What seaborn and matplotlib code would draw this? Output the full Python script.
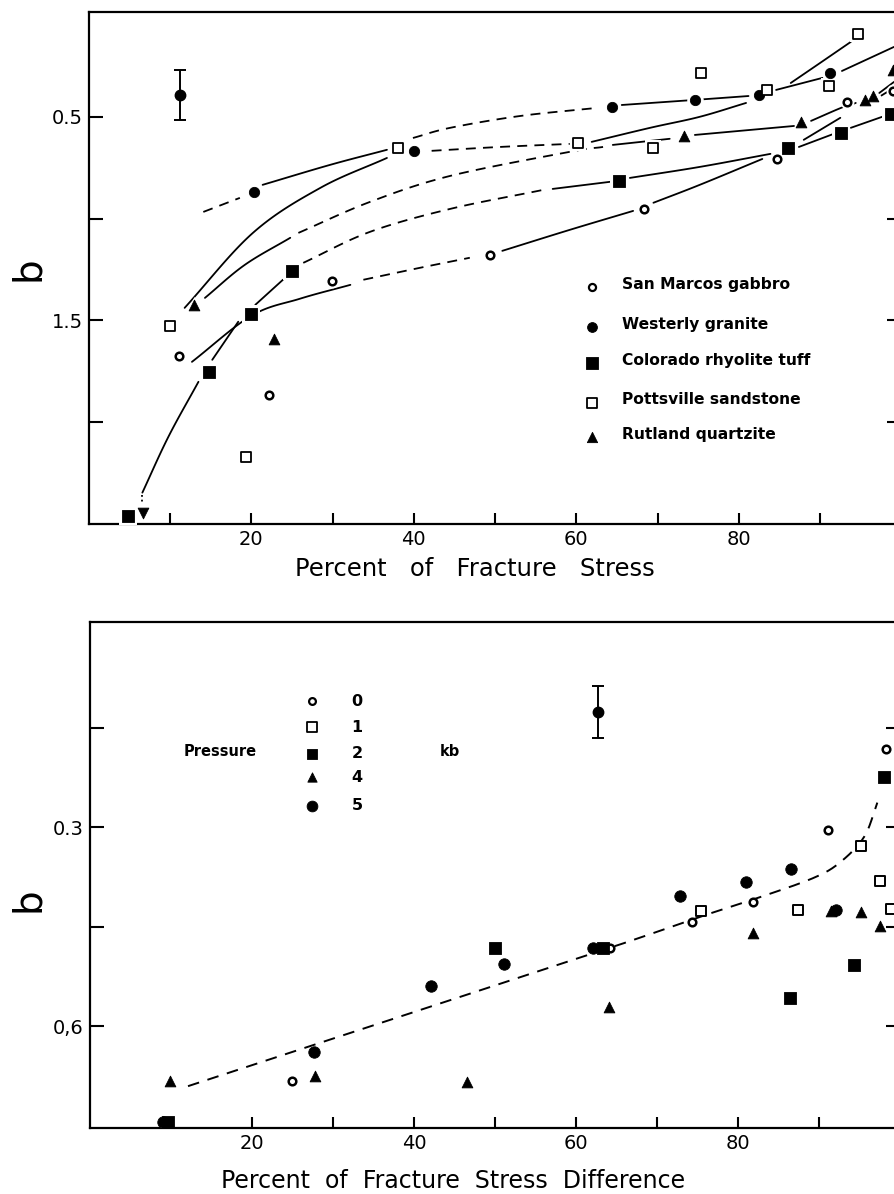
import numpy as np
import matplotlib
matplotlib.use("Agg")
import matplotlib.pyplot as plt
import seaborn as sns

# ---------------- upper panel: b versus percent of fracture stress ----------------
gabbro_pct = [11.1, 22.2, 29.9, 49.4, 68.3, 84.7, 93.3, 99.0]
gabbro_b = [1.673, 1.865, 1.305, 1.178, 0.952, 0.707, 0.427, 0.373]

granite_pct = [20.3, 40.0, 64.4, 74.6, 82.5, 91.2]
granite_b = [0.869, 0.667, 0.451, 0.417, 0.393, 0.285]

tuff_pct = [4.8, 14.8, 20.0, 25.0, 65.3, 86.1, 92.6, 98.7]
tuff_b = [2.458, 1.752, 1.467, 1.256, 0.815, 0.653, 0.579, 0.486]

sandstone_pct = [10.0, 19.4, 38.1, 60.2, 69.4, 75.4, 83.5, 91.1, 94.7]
sandstone_b = [1.526, 2.169, 0.653, 0.628, 0.653, 0.285, 0.368, 0.348, 0.093]

quartzite_pct = [13.0, 22.8, 73.3, 87.7, 95.5, 96.5, 99.0]
quartzite_b = [1.423, 1.590, 0.594, 0.525, 0.417, 0.397, 0.270]

bound_pct = [6.7]
bound_b = [2.444]

upper_err_pct = [11.2]
upper_err_b = [0.393]
upper_err = [0.122]

# hand-fitted trend curves, as (linestyle, percent, b) pieces
granite_fit = [
    ("--", [14.1, 18.6], [0.967, 0.898]),
    ("-", [21.4, 29.7, 36.7], [0.834, 0.736, 0.662]),
    ("--", [39.9, 44.5, 53.1, 62.6], [0.604, 0.554, 0.496, 0.456]),
    ("-", [65.6, 74.6, 81.2], [0.442, 0.417, 0.398]),
    ("-", [84.6, 90.3], [0.368, 0.309]),
    ("-", [92.7, 99.1], [0.275, 0.157]),
]
sandstone_fit = [
    ("-", [11.8, 20.2, 28.5, 36.7], [1.438, 1.070, 0.849, 0.702]),
    ("--", [42.2, 50.6, 59.2], [0.667, 0.648, 0.633]),
    ("-", [61.9, 69.1, 75.2, 80.9], [0.623, 0.554, 0.500, 0.432]),
    ("-", [86.4, 90.0, 93.8], [0.334, 0.236, 0.132]),
]
quartzite_fit = [
    ("-", [14.3, 19.2, 24.8], [1.389, 1.227, 1.094]),
    ("--", [25.8, 34.6, 44.5, 59.2, 63.3], [1.070, 0.918, 0.790, 0.672, 0.648]),
    ("-", [64.5, 71.5], [0.638, 0.608]),
    ("-", [74.6, 86.8], [0.589, 0.545]),
    ("-", [88.9, 92.6, 94.4], [0.520, 0.456, 0.432]),
    ("-", [97.3, 99.1], [0.383, 0.329]),
]
tuff_fit = [
    ("-", [6.6, 9.8, 13.5], [2.345, 2.071, 1.801]),
    (":", [6.6, 6.6], [2.355, 2.400]),
    ("-", [15.2, 18.4], [1.693, 1.506]),
    ("-", [20.5, 23.9], [1.423, 1.300]),
    ("--", [26.4, 34.6, 44.5, 55.9], [1.217, 1.065, 0.952, 0.859]),
    ("-", [57.1, 64.2], [0.854, 0.819]),
    ("-", [66.6, 75.2, 83.9], [0.800, 0.746, 0.682]),
    ("-", [87.4, 92.0], [0.648, 0.579]),
    ("-", [93.8, 98.3], [0.554, 0.491]),
]
gabbro_fit = [
    ("-", [12.7, 20.0, 26.0, 32.2], [1.703, 1.477, 1.393, 1.325]),
    ("--", [33.8, 40.8, 46.9], [1.300, 1.241, 1.192]),
    ("-", [50.9, 59.2, 67.0], [1.158, 1.055, 0.962]),
    ("-", [69.5, 75.2, 82.9], [0.922, 0.834, 0.707]),
    ("-", [88.0, 92.5], [0.613, 0.505]),
    ("--", [97.5, 99.1], [0.397, 0.358]),
]

rock_names = ["San Marcos gabbro", "Westerly granite", "Colorado rhyolite tuff",
              "Pottsville sandstone", "Rutland quartzite"]

# ---------------- lower panel: b versus percent of fracture stress difference ----------------
p0_pct = [24.9, 64.2, 74.3, 81.9, 91.1, 98.3]
p0_b = [0.682, 0.482, 0.443, 0.412, 0.304, 0.183]
p1_pct = [75.4, 87.4, 95.2, 97.5, 98.9]
p1_b = [0.426, 0.424, 0.329, 0.381, 0.423]
p2_pct = [9.6, 50.0, 63.3, 86.4, 94.3, 98.0]
p2_b = [0.744, 0.482, 0.482, 0.557, 0.507, 0.224]
p4_pct = [9.9, 27.8, 46.5, 64.1, 81.9, 91.5, 95.2, 97.5]
p4_b = [0.682, 0.675, 0.684, 0.571, 0.459, 0.426, 0.427, 0.449]
p5_pct = [9.0, 27.7, 42.1, 51.1, 62.1, 72.8, 81.0, 86.5, 92.1]
p5_b = [0.744, 0.638, 0.539, 0.506, 0.482, 0.403, 0.382, 0.363, 0.424]

trend_pct = [12.1, 44.1, 64.6, 75.3, 82.8, 89.4, 92.7, 95.6, 97.2]
trend_b = [0.690, 0.562, 0.480, 0.435, 0.405, 0.376, 0.352, 0.314, 0.263]

lower_err_pct = [62.7]
lower_err_b = [0.127]
lower_err = [0.039]

pressure_labels = ["0", "1", "2", "4", "5"]

# ---------------- styling ----------------
sns.set_theme(style="white")
plt.rcParams["font.family"] = ["DejaVu Sans"]
plt.rcParams.update({
    "axes.edgecolor": "black",
    "axes.linewidth": 1.6,
    "xtick.color": "black",
    "ytick.color": "black",
    "text.color": "black",
})

DASH = (0, (5.5, 4.0))
LW = 1.3


def catmull_rom(xs, ys, n=24):
    pts = np.column_stack([xs, ys]).astype(float)
    if len(pts) < 3:
        return pts[:, 0], pts[:, 1]
    p = np.vstack([2 * pts[0] - pts[1], pts, 2 * pts[-1] - pts[-2]])
    t = np.linspace(0, 1, n, endpoint=False)[:, None]
    segs = []
    for i in range(1, len(p) - 2):
        p0, p1, p2, p3 = p[i - 1], p[i], p[i + 1], p[i + 2]
        segs.append(0.5 * (2 * p1 + (-p0 + p2) * t
                           + (2 * p0 - 5 * p1 + 4 * p2 - p3) * t ** 2
                           + (-p0 + 3 * p1 - 3 * p2 + p3) * t ** 3))
    segs.append(pts[-1][None])
    out = np.vstack(segs)
    return out[:, 0], out[:, 1]


def draw_fit(ax, pieces):
    for style, xs, ys in pieces:
        sx, sy = catmull_rom(xs, ys)
        ls = DASH if style == "--" else ((0, (1.0, 1.6)) if style == ":" else "-")
        sns.lineplot(x=sx, y=sy, sort=False, estimator=None, color="black",
                     linewidth=LW, linestyle=ls, ax=ax, zorder=2)


def draw_marks(ax, xs, ys, marker, s, filled, lw=1.5, halo=4.5):
    sns.scatterplot(x=xs, y=ys, marker=marker, s=(np.sqrt(s) + halo) ** 2,
                    color="white", edgecolor="white", linewidth=0, ax=ax,
                    zorder=3, legend=False, clip_on=False)
    if filled:
        sns.scatterplot(x=xs, y=ys, marker=marker, s=s, color="black",
                        edgecolor="black", linewidth=0.6, ax=ax, zorder=4,
                        legend=False, clip_on=False)
    else:
        sns.scatterplot(x=xs, y=ys, marker=marker, s=s, color="white",
                        edgecolor="black", linewidth=lw, ax=ax, zorder=4,
                        legend=False, clip_on=False)


def style_axes(ax, ylim, yticks, ylabels):
    ax.set_xlim(0, 100)
    ax.set_ylim(*ylim)
    ax.set_xticks(range(10, 100, 10))
    ax.set_xticklabels(["", "20", "", "40", "", "60", "", "80", ""])
    ax.set_yticks(yticks)
    ax.set_yticklabels(ylabels)
    ax.tick_params(axis="x", direction="in", length=8, width=1.5,
                   labelsize=14, pad=4.5, top=False, bottom=True)
    ax.tick_params(axis="y", direction="in", length=10, width=1.5,
                   labelsize=14, pad=4.5, left=True, right=True)
    ax.set_xlabel("")
    ax.set_ylabel("")
    for sp in ax.spines.values():
        sp.set_visible(True)
        sp.set_color("black")
        sp.set_linewidth(1.6)


W, H = 894, 1194
fig = plt.figure(figsize=(W / 100, H / 100), dpi=100)
fig.patch.set_facecolor("white")

ax1 = fig.add_axes([88.75 / W, 1 - 524.2 / H, 812.5 / W, (524.2 - 12.3) / H])
ax2 = fig.add_axes([90 / W, 1 - 1128 / H, 810 / W, 506 / H])

# ---- upper panel ----
for fit in (granite_fit, sandstone_fit, quartzite_fit, tuff_fit, gabbro_fit):
    draw_fit(ax1, fit)

draw_marks(ax1, gabbro_pct, gabbro_b, "o", 30, False, lw=1.8)
draw_marks(ax1, granite_pct, granite_b, "o", 55, True)
draw_marks(ax1, tuff_pct, tuff_b, "s", 75, True)
draw_marks(ax1, sandstone_pct, sandstone_b, "s", 48, False, lw=1.3)
draw_marks(ax1, quartzite_pct, quartzite_b, "^", 60, True)
draw_marks(ax1, bound_pct, bound_b, "v", 60, True)

ax1.errorbar(upper_err_pct, upper_err_b, yerr=upper_err, fmt="o", color="black",
             ms=7.5, elinewidth=1.4, capsize=4.5, capthick=1.4, zorder=5)

style_axes(ax1, (2.5, -0.013), [0.5, 1.0, 1.5, 2.0], ["0.5", "", "1.5", ""])

# legend of rock types
leg_marks = [("o", 26, False, 1.6), ("o", 50, True, 0), ("s", 70, True, 0),
             ("s", 55, False, 1.3), ("^", 55, True, 0)]
leg_rows = [287, 327, 363, 403, 437]
for (mk, s, filled, lw), row, name in zip(leg_marks, leg_rows, rock_names):
    fy = 1 - (row - 12.3) / 511.9
    ax1.scatter([(592 - 88.75) / 812.5], [fy], transform=ax1.transAxes, marker=mk,
                s=s, facecolor="black" if filled else "white", edgecolor="black",
                linewidth=lw if lw else 0.6, clip_on=False, zorder=5)
    ax1.text((622 - 88.75) / 812.5, 1 - (row - 3 - 12.3) / 511.9, name,
             transform=ax1.transAxes, fontsize=11.2, fontweight="bold",
             ha="left", va="center")

# ---- lower panel ----
sx, sy = catmull_rom(trend_pct, trend_b)
sns.lineplot(x=sx, y=sy, sort=False, estimator=None, color="black",
             linewidth=1.4, linestyle=(0, (6.0, 4.5)), ax=ax2, zorder=2)

draw_marks(ax2, p0_pct, p0_b, "o", 30, False, lw=1.8, halo=0)
draw_marks(ax2, p1_pct, p1_b, "s", 55, False, lw=1.4, halo=0)
draw_marks(ax2, p2_pct, p2_b, "s", 85, True, halo=0)
draw_marks(ax2, p4_pct, p4_b, "^", 60, True, halo=0)
draw_marks(ax2, p5_pct, p5_b, "o", 68, True, halo=0)

ax2.errorbar(lower_err_pct, lower_err_b, yerr=lower_err, fmt="o", color="black",
             ms=7.5, elinewidth=1.4, capsize=4.5, capthick=1.4, zorder=5)

style_axes(ax2, (0.753, -0.009), [0.15, 0.3, 0.45, 0.6], ["", "0.3", "", "0,6"])

# legend of confining pressures
p_marks = [("o", 24, False, 1.6), ("s", 45, False, 1.3), ("s", 55, True, 0),
           ("^", 45, True, 0), ("o", 60, True, 0)]
p_rows = [701, 727, 754, 777, 806]
for (mk, s, filled, lw), row, lab in zip(p_marks, p_rows, pressure_labels):
    fy = 1 - (row - 622) / 506
    ax2.scatter([(312 - 90) / 810], [fy], transform=ax2.transAxes, marker=mk, s=s,
                facecolor="black" if filled else "white", edgecolor="black",
                linewidth=lw if lw else 0.6, clip_on=False, zorder=5)
    ax2.text((357 - 90) / 810, fy, lab, transform=ax2.transAxes, fontsize=11.5,
             fontweight="bold", ha="center", va="center")
ax2.text((220 - 90) / 810, 1 - (751 - 622) / 506, "Pressure", transform=ax2.transAxes,
         fontsize=10.5, fontweight="bold", ha="center", va="center")
ax2.text((440 - 90) / 810, 1 - (752 - 622) / 506, "kb", transform=ax2.transAxes,
         fontsize=10.5, fontweight="bold", ha="left", va="center")

# axis titles
fig.text(28 / W, 1 - 269 / H, "b", rotation=90, fontsize=28, ha="center", va="center")
fig.text(28 / W, 1 - 900 / H, "b", rotation=90, fontsize=28, ha="center", va="center")
fig.text(475 / W, 1 - 569 / H, "Percent   of   Fracture   Stress", fontsize=17.5,
         ha="center", va="center")
fig.text(453 / W, 1 - 1181 / H, "Percent  of  Fracture  Stress  Difference", fontsize=17,
         ha="center", va="center")

fig.savefig("out.png", dpi=100, facecolor="white")
